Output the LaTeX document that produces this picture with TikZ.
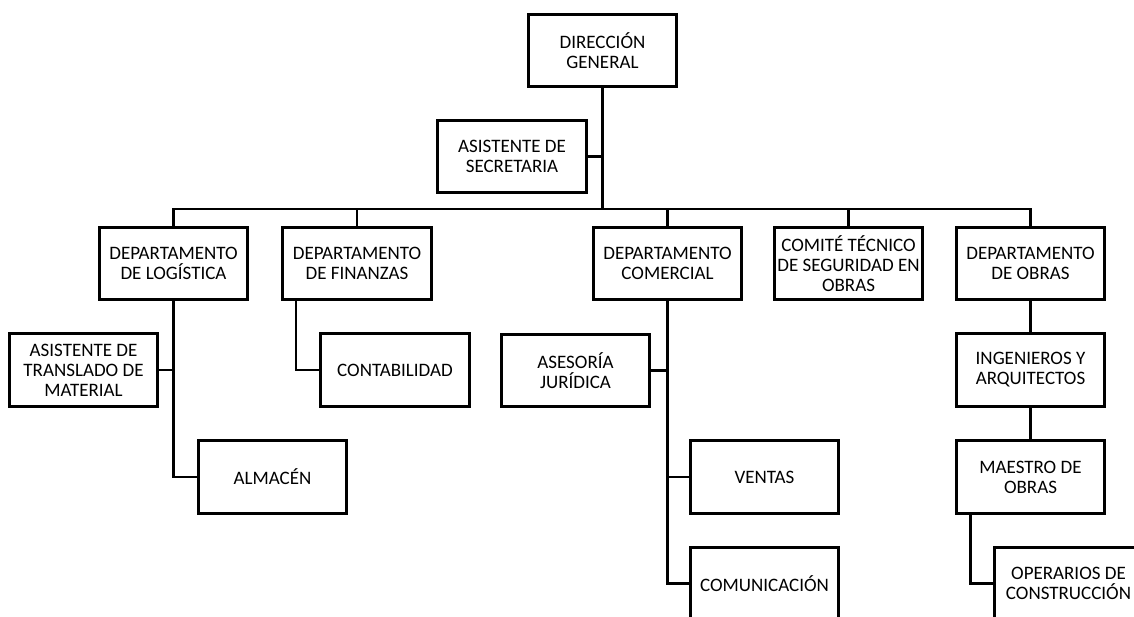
\documentclass[tikz,border=0pt]{standalone}
\usepackage{fontspec}
\setmainfont{Carlito}

\begin{document}
\begin{tikzpicture}[x=1pt,y=-1pt,line width=2.8pt,
  cargo/.style={draw,rectangle,inner sep=0pt,minimum width=148.5pt,minimum height=72.5pt,
    align=center,font=\fontsize{19}{20}\selectfont}]
\useasboundingbox (0,0) rectangle (1134,616);
\clip (0,0) rectangle (1134,616);
\node[cargo] (dir) at (602.5,50.5) {DIRECCIÓN\\GENERAL};
\node[cargo] (secr) at (512,156.5) {ASISTENTE DE\\SECRETARIA};
\node[cargo] (log) at (173.5,263.5) {DEPARTAMENTO\\DE LOGÍSTICA};
\node[cargo] (fin) at (357,263.5) {DEPARTAMENTO\\DE FINANZAS};
\node[cargo] (com) at (667.5,263.5) {DEPARTAMENTO\\COMERCIAL};
\node[cargo] (comite) at (848.5,263.5) {COMITÉ TÉCNICO\\DE SEGURIDAD EN\\OBRAS};
\node[cargo] (obras) at (1030.5,263.5) {DEPARTAMENTO\\DE OBRAS};
\node[cargo] (trasl) at (83.5,370) {ASISTENTE DE\\TRANSLADO DE\\MATERIAL};
\node[cargo] (conta) at (395,370) {CONTABILIDAD};
\node[cargo] (ases) at (575.5,370.5) {ASESORÍA\\JURÍDICA};
\node[cargo] (ing) at (1030.5,370) {INGENIEROS Y\\ARQUITECTOS};
\node[cargo] (alm) at (272.5,477) {ALMACÉN};
\node[cargo] (ventas) at (764.5,477) {VENTAS};
\node[cargo] (maestro) at (1030.5,477) {MAESTRO DE\\OBRAS};
\node[cargo] (comunic) at (764.5,583.5) {COMUNICACIÓN};
\node[cargo] (oper) at (1068.5,583.5) {OPERARIOS DE\\CONSTRUCCIÓN};
\coordinate (bus) at (602.5,209);
\draw (dir.south) -- (bus);
\draw (secr.east) -- (secr.east -| bus);
\draw (log.north) |- (bus) -| (obras.north);
\draw (fin.north) -- (fin.north |- bus);
\draw (com.north) -- (com.north |- bus);
\draw (comite.north) -- (comite.north |- bus);
\draw (log.south) |- (alm.west);
\draw (trasl.east) -- (trasl.east -| log.south);
\draw ([xshift=-61pt]fin.south) |- (conta.west);
\draw (com.south) |- (comunic.west);
\draw (com.south |- ventas.west) -- (ventas.west);
\draw (ases.east) -- (ases.east -| com.south);
\draw (obras.south) -- (ing.north);
\draw (ing.south) -- (maestro.north);
\draw ([xshift=-60pt]maestro.south) |- (oper.west);
\end{tikzpicture}
\end{document}
